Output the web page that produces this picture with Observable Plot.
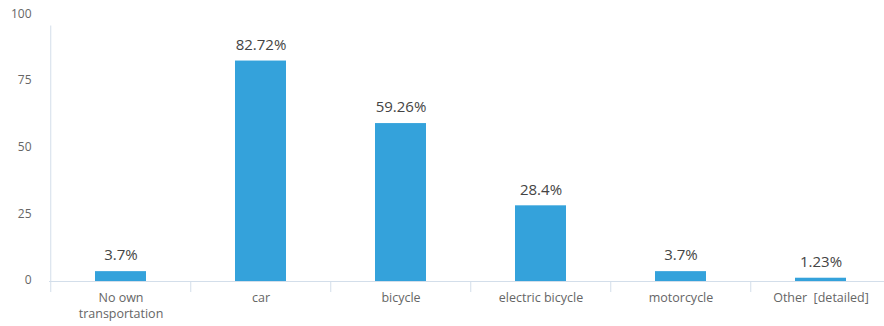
<!DOCTYPE html>
<html>
<head>
<meta charset="utf-8">
<script src="https://cdn.jsdelivr.net/npm/d3@7"></script>
<script src="https://cdn.jsdelivr.net/npm/@observablehq/plot@0.6"></script>
<style>
  html, body { margin: 0; padding: 0; background: #fff; }
  #chart svg { display: block; }
</style>
</head>
<body>
<div id="chart"></div>
<script>
const categories = ["No own transportation", "car", "bicycle", "electric bicycle", "motorcycle", "Other [detailed]"];
const tickLabels = ["No own\ntransportation", "car", "bicycle", "electric bicycle", "motorcycle", "Other\u00a0 [detailed]"];
const values = [3.7, 82.72, 59.26, 28.4, 3.7, 1.23];
const valueLabels = ["3.7%", "82.72%", "59.26%", "28.4%", "3.7%", "1.23%"];
const yTicks = [0, 25, 50, 75, 100];

const data = categories.map((c, i) => ({category: c, value: values[i], label: valueLabels[i]}));

const W = 884, H = 326;
const xRange = [49, 892];
const half = (xRange[1] - xRange[0]) / categories.length / 2;
const axisColor = "#d3deea";

const chart = Plot.plot({
  width: W,
  height: H,
  marginLeft: 49,
  marginRight: 0,
  marginTop: 14,
  marginBottom: 45,
  style: {fontFamily: "'Open Sans', sans-serif", background: "#fff"},
  x: {domain: categories, range: xRange, paddingInner: 0.635, paddingOuter: 0.3175, align: 0.5},
  y: {domain: [0, 100], range: [281, 14.5]},
  marks: [
    Plot.axisY({ticks: yTicks, tickSize: 0, tickPadding: 18, dy: -1, label: null, fill: "#666", fontSize: 12}),
    Plot.ruleY([0], {stroke: axisColor}),
    Plot.ruleX([categories[0]], {x: d => d, dx: -half, y1: 0, y2: 100, insetBottom: -11, stroke: axisColor}),
    Plot.axisX({tickSize: 11, tickFormat: null, dx: -half, stroke: axisColor, label: null}),
    Plot.axisX({tickSize: 0, tickPadding: 9, label: null, tickFormat: (d) => tickLabels[categories.indexOf(d)], fill: "#666", fontSize: 12.5, lineHeight: 1.3}),
    Plot.barY(data, {x: "category", y: "value", fill: "#34a2db"}),
    Plot.text(data, {x: "category", y: "value", text: "label", dy: -16, fill: "#444", fontSize: 15})
  ]
});
document.getElementById("chart").appendChild(chart);
</script>
</body>
</html>
